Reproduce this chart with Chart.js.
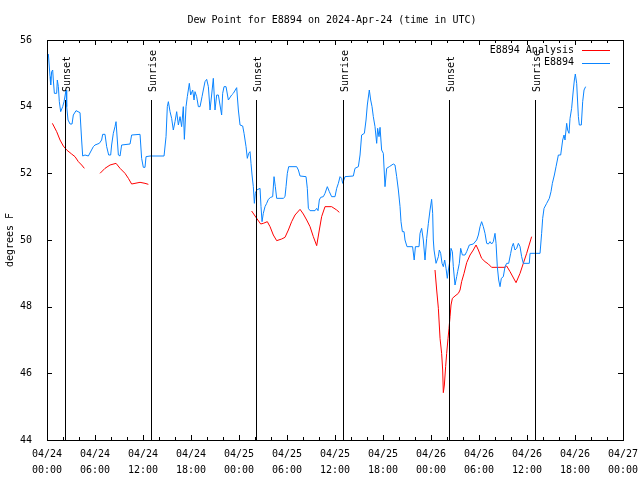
<!DOCTYPE html>
<html><head><meta charset="utf-8">
<script src="https://cdn.jsdelivr.net/npm/chart.js@4/dist/chart.umd.min.js"></script>
<style>html,body{margin:0;padding:0;background:#fff}canvas{display:block}</style>
</head><body>
<canvas id="c" width="640" height="480"></canvas>
<script>
const titleText = 'Dew Point for E8894 on 2024-Apr-24 (time in UTC)';
const yAxisLabel = 'degrees F';
const seriesNames = ['E8894 Analysis', 'E8894'];
const xTickDates = ['04/24','04/24','04/24','04/24','04/25','04/25','04/25','04/25','04/26','04/26','04/26','04/26','04/27'];
const xTickTimes = ['00:00','06:00','12:00','18:00','00:00','06:00','12:00','18:00','00:00','06:00','12:00','18:00','00:00'];
const xTickHours = [0,6,12,18,24,30,36,42,48,54,60,66,72];
const yTicks = [44,46,48,50,52,54,56];
const sunsetHours = [2.25, 26.15, 50.2];
const sunriseHours = [13.05, 37.02, 60.95];

// hours since 2024-04-24 00:00 UTC
const blueHours = [0.17,0.38,0.46,0.58,0.71,0.79,0.92,1.21,1.29,1.42,1.54,1.71,1.96,2.13,2.38,2.46,2.63,2.88,3.13,3.29,3.63,4.13,4.33,4.46,4.75,5.17,5.79,6.0,6.54,6.83,6.96,7.25,7.46,7.71,7.96,8.08,8.29,8.5,8.63,8.79,8.92,9.13,9.33,10.38,10.58,11.63,11.83,12.04,12.25,12.38,12.88,14.63,14.88,15.04,15.17,15.38,15.58,15.79,16.0,16.21,16.42,16.63,16.83,17.04,17.17,17.38,17.54,17.79,17.96,18.21,18.38,18.5,18.71,18.92,19.13,19.38,19.54,19.75,19.96,20.17,20.38,20.58,20.79,21.0,21.21,21.42,21.83,21.96,22.13,22.38,22.67,23.08,23.29,23.71,23.92,24.13,24.46,24.63,24.88,25.04,25.21,25.38,25.5,25.63,25.79,25.92,26.04,26.21,26.63,26.75,26.88,27.04,27.25,27.46,27.67,27.96,28.21,28.38,28.54,28.71,29.54,29.75,29.88,30.04,30.21,31.21,31.42,31.63,32.38,32.54,32.67,32.88,33.5,33.71,33.88,34.04,34.21,34.54,34.75,35.04,35.29,35.58,36.0,36.21,36.42,36.63,36.83,36.96,37.25,38.29,38.5,38.92,39.13,39.33,39.67,39.88,40.04,40.29,40.46,40.63,40.79,41.0,41.21,41.33,41.5,41.63,41.83,42.04,42.25,42.46,42.79,43.29,43.5,43.71,43.92,44.13,44.25,44.42,44.63,44.75,45.0,45.7,45.9,46.05,46.5,46.63,46.83,47.04,47.25,47.46,47.67,47.88,48.08,48.21,48.29,48.38,48.63,48.92,49.04,49.21,49.38,49.54,49.71,49.88,50.04,50.17,50.38,50.5,50.67,50.79,51.0,51.21,51.33,51.54,51.71,51.92,52.25,52.46,52.79,53.29,53.71,53.92,54.13,54.33,54.54,54.75,54.96,55.17,55.38,55.58,55.79,56.0,56.13,56.29,56.46,56.63,56.79,57.04,57.25,57.46,57.71,57.96,58.13,58.29,58.5,58.71,58.92,59.13,59.33,59.54,60.29,60.38,61.63,61.83,61.96,62.13,62.46,62.79,63.0,63.17,63.42,63.63,63.92,64.21,64.46,64.63,64.75,64.96,65.08,65.25,65.38,65.58,65.79,65.92,66.04,66.21,66.42,66.54,66.79,66.96,67.13,67.33];
const blueDew = [55.58,54.9,54.65,55.05,55.1,54.8,54.4,54.4,54.8,54.6,54.15,53.85,54.0,54.15,54.5,54.0,53.6,53.48,53.48,53.75,53.88,53.82,53.0,52.52,52.55,52.52,52.8,52.85,52.9,53.0,53.17,53.17,52.8,52.55,52.55,52.85,53.2,53.4,53.55,53.0,52.55,52.52,52.85,52.88,53.15,53.17,52.45,52.18,52.18,52.5,52.52,52.52,53.1,54.0,54.15,53.85,53.65,53.3,53.55,53.85,53.45,53.7,53.4,54.0,53.02,54.0,54.3,54.7,54.35,54.5,54.2,54.45,54.3,54.0,54.0,54.3,54.5,54.75,54.82,54.6,53.9,54.35,54.85,53.9,54.35,54.35,53.75,54.4,54.6,54.6,54.2,54.35,54.4,54.57,53.9,53.45,53.42,53.2,52.8,52.45,52.6,52.65,52.3,51.95,51.6,51.1,51.4,51.5,51.55,51.0,50.55,50.8,51.0,51.1,51.22,51.28,51.3,51.9,51.6,51.25,51.25,51.3,51.6,52.0,52.2,52.2,52.1,51.92,51.9,51.55,50.95,50.88,50.88,50.95,50.88,51.2,51.28,51.3,51.4,51.6,51.45,51.3,51.3,51.55,51.7,51.9,51.85,51.7,51.9,51.92,52.15,52.2,52.55,53.15,53.2,53.6,54.05,54.5,54.2,54.0,53.7,53.4,52.9,53.35,53.1,53.38,52.7,52.6,51.6,52.15,52.2,52.28,52.25,51.9,51.5,51.0,50.55,50.25,50.25,50.0,49.8,49.8,49.4,49.8,49.8,50.2,50.35,50.0,49.4,50.05,50.5,50.9,51.22,50.8,50.0,49.7,49.3,49.5,49.7,49.6,49.3,49.2,49.4,49.15,48.85,49.1,49.4,49.75,49.65,49.2,48.65,48.9,49.05,49.3,49.75,49.55,49.55,49.65,49.85,49.88,50.0,50.15,50.4,50.55,50.4,50.2,49.9,49.88,49.95,49.88,49.95,50.2,49.9,49.2,48.8,48.6,48.85,48.9,49.2,49.3,49.3,49.6,49.8,49.9,49.7,49.75,49.9,49.8,49.5,49.3,49.3,49.6,49.6,50.2,50.65,50.95,51.1,51.25,51.45,51.7,51.95,52.2,52.55,52.55,53.0,53.15,53.0,53.5,53.3,53.2,53.65,53.95,54.5,54.8,54.98,54.7,53.7,53.45,53.45,54.15,54.5,54.6];

const redHours = [0.67,1.21,1.63,2.04,2.46,3.08,3.5,3.92,4.33,4.67,5.5,6.63,7.25,7.88,8.63,9.13,9.75,10.17,10.58,11.0,11.63,12.25,12.67,20.0,25.58,26.21,26.71,27.04,27.54,27.88,28.29,28.71,29.33,29.75,30.17,30.58,31.0,31.63,32.04,32.46,32.88,33.29,33.71,34.04,34.33,34.75,35.58,36.21,36.54,42.0,48.5,48.71,48.92,49.13,49.33,49.46,49.54,49.67,49.83,49.96,50.13,50.25,50.38,50.5,50.67,51.0,51.42,51.63,51.83,52.13,52.46,52.88,53.29,53.63,53.92,54.33,54.75,55.17,55.58,57.25,57.46,57.88,58.63,59.13,59.54,59.96,60.58];
const redDew = [53.5,53.25,53.0,52.82,52.7,52.58,52.5,52.35,52.25,52.15,null,52.0,52.15,52.25,52.3,52.15,52.0,51.85,51.68,51.7,51.73,51.7,51.67,null,50.87,50.65,50.48,50.5,50.55,50.4,50.15,49.98,50.03,50.08,50.3,50.55,50.75,50.92,50.78,50.6,50.4,50.1,49.83,50.3,50.7,51.0,51.0,50.9,50.83,null,49.1,48.5,47.95,47.05,46.6,46.1,45.42,45.65,46.2,46.6,47.05,47.35,47.7,48.05,48.25,48.32,48.4,48.5,48.75,49.0,49.32,49.55,49.7,49.85,49.7,49.45,49.35,49.28,49.18,49.18,49.22,49.05,48.72,49.0,49.3,49.6,50.1];

const redColor = '#ff0000';
const blueColor = '#0a84ff';
const monoFont = '"DejaVu Sans Mono", "Liberation Mono", monospace';

const toPoints = (hs, vs) => hs.map((h, i) => ({x: h, y: vs[i]}));

const decor = {
  id: 'decor',
  afterDatasetsDraw(chart) {
    const {ctx, chartArea: a, scales: {x, y}} = chart;
    const h = a.bottom - a.top;
    ctx.save();
    ctx.strokeStyle = '#000';
    ctx.lineWidth = 1;
    ctx.fillStyle = '#000';
    ctx.font = '10px ' + monoFont;
    const lineTop = a.bottom - 0.85 * h;
    const labelY = a.bottom - 0.87 * h;
    const events = sunsetHours.map(t => [t, 'Sunset']).concat(sunriseHours.map(t => [t, 'Sunrise']));
    for (const [t, name] of events) {
      const px = Math.round(x.getPixelForValue(t)) + 0.5;
      ctx.beginPath(); ctx.moveTo(px, lineTop); ctx.lineTo(px, a.bottom); ctx.stroke();
      ctx.save();
      ctx.translate(px + 2, labelY);
      ctx.rotate(-Math.PI / 2);
      ctx.textAlign = 'left'; ctx.textBaseline = 'middle';
      ctx.fillText(name, 0, 0);
      ctx.restore();
    }
    // border
    ctx.strokeRect(a.left + 0.5, a.top + 0.5, a.right - a.left, a.bottom - a.top);
    // ticks (inward, mirrored)
    ctx.beginPath();
    for (let t = 0; t <= 72; t += 2) {
      const px = Math.round(x.getPixelForValue(t)) + 0.5;
      const len = (t % 6 === 0) ? 5 : 3;
      ctx.moveTo(px, a.bottom); ctx.lineTo(px, a.bottom - len);
      ctx.moveTo(px, a.top); ctx.lineTo(px, a.top + len);
    }
    for (const v of yTicks) {
      const py = Math.round(y.getPixelForValue(v)) + 0.5;
      ctx.moveTo(a.left, py); ctx.lineTo(a.left + 5, py);
      ctx.moveTo(a.right, py); ctx.lineTo(a.right - 5, py);
    }
    ctx.stroke();
    // legend
    const ds = chart.data.datasets;
    const legendItems = [ds[0], ds[1]];
    ctx.textAlign = 'right'; ctx.textBaseline = 'middle';
    legendItems.forEach((d, i) => {
      const ly = 50 + i * 12.5;
      ctx.fillStyle = '#000';
      ctx.fillText(d.label, 574, ly);
      ctx.strokeStyle = d.borderColor;
      ctx.beginPath(); ctx.moveTo(582, Math.round(ly) + 0.5); ctx.lineTo(610, Math.round(ly) + 0.5); ctx.stroke();
    });
    // title
    ctx.fillStyle = '#000';
    ctx.textAlign = 'center'; ctx.textBaseline = 'middle';
    ctx.fillText(titleText, 332, 20);
    // y label
    ctx.save();
    ctx.translate(10, (a.top + a.bottom) / 2);
    ctx.rotate(-Math.PI / 2);
    ctx.fillText(yAxisLabel, 0, 0);
    ctx.restore();
    ctx.restore();
  }
};

new Chart(document.getElementById('c'), {
  type: 'line',
  data: {
    datasets: [
      {label: seriesNames[0], data: toPoints(redHours, redDew), borderColor: redColor, borderWidth: 1, pointRadius: 0, tension: 0, spanGaps: false, order: 1},
      {label: seriesNames[1], data: toPoints(blueHours, blueDew), borderColor: blueColor, borderWidth: 1, pointRadius: 0, tension: 0, spanGaps: false, order: 0}
    ]
  },
  options: {
    responsive: false,
    animation: false,
    events: [],
    layout: {padding: {top: 40, right: 17, left: 0, bottom: 0}},
    plugins: {legend: {display: false}, title: {display: false}, tooltip: {enabled: false}},
    scales: {
      x: {
        type: 'linear', min: 0, max: 72,
        afterFit(s) { s.height = 40; s.paddingLeft = 0; s.paddingRight = 0; },
        afterBuildTicks(s) { s.ticks = xTickHours.map(v => ({value: v})); },
        grid: {display: false}, border: {display: false},
        ticks: {
          autoSkip: false, maxRotation: 0, padding: -2, color: '#000',
          font: {family: monoFont, size: 10, lineHeight: 1.6},
          callback(value) { const i = xTickHours.indexOf(value); return i < 0 ? '' : [xTickDates[i], xTickTimes[i]]; }
        }
      },
      y: {
        type: 'linear', min: 44, max: 56,
        afterFit(s) { s.width = 47; s.paddingTop = 0; s.paddingBottom = 0; },
        afterBuildTicks(s) { s.ticks = yTicks.map(v => ({value: v})); },
        grid: {display: false}, border: {display: false},
        ticks: {padding: 7, color: '#000', font: {family: monoFont, size: 10}, callback(v) { return String(v); }}
      }
    }
  },
  plugins: [decor]
});
</script>
</body></html>
